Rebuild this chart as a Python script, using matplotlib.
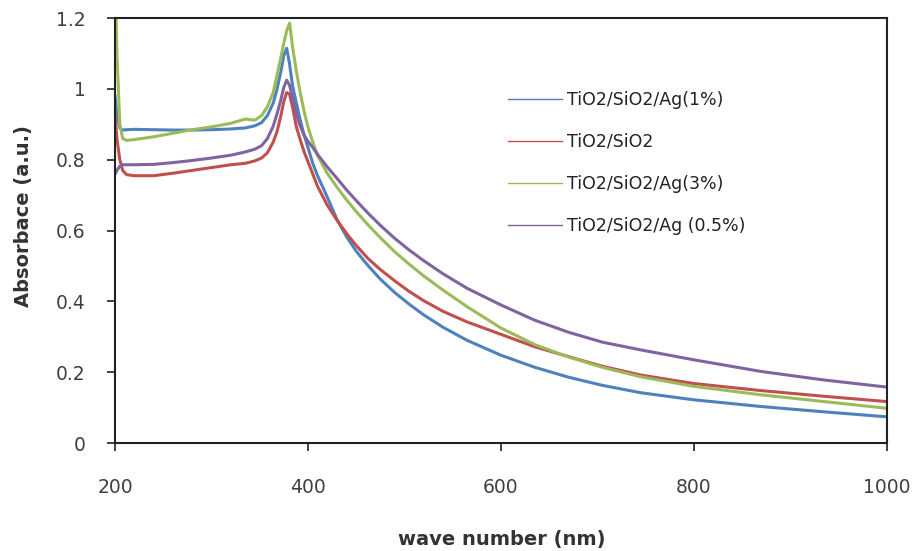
import matplotlib
matplotlib.use("Agg")
import matplotlib.pyplot as plt
from matplotlib.lines import Line2D

wavelength = [200, 202, 205, 208, 212, 220, 240, 260, 280, 300, 320, 335, 345, 352, 358, 364, 368, 372, 375,
              378, 381, 384, 388, 392, 396, 400, 405, 410, 420, 430, 440, 450, 462, 475, 490, 505, 520, 540,
              565, 600, 635, 670, 705, 745, 800, 870, 935, 1000]

ag1 = [0.98, 0.93, 0.89, 0.884, 0.885, 0.886, 0.885, 0.884, 0.884, 0.885, 0.887, 0.89, 0.896, 0.905, 0.925,
       0.96, 1.00, 1.05, 1.095, 1.115, 1.07, 1.01, 0.96, 0.912, 0.87, 0.835, 0.79, 0.755, 0.695, 0.632, 0.583,
       0.542, 0.502, 0.463, 0.425, 0.392, 0.362, 0.327, 0.29, 0.248, 0.214, 0.186, 0.163, 0.142, 0.122, 0.103,
       0.088, 0.074]

tio2_sio2 = [0.93, 0.86, 0.80, 0.77, 0.758, 0.755, 0.755, 0.762, 0.77, 0.778, 0.786, 0.79, 0.797, 0.805, 0.82,
             0.85, 0.88, 0.925, 0.965, 0.99, 0.985, 0.95, 0.893, 0.857, 0.823, 0.795, 0.76, 0.725, 0.672, 0.63,
             0.592, 0.558, 0.522, 0.49, 0.458, 0.428, 0.402, 0.372, 0.342, 0.307, 0.272, 0.244, 0.217, 0.192,
             0.168, 0.148, 0.132, 0.117]

ag3 = [1.35, 1.1, 0.9, 0.86, 0.855, 0.857, 0.865, 0.875, 0.885, 0.893, 0.903, 0.915, 0.912, 0.925, 0.95,
       0.99, 1.04, 1.09, 1.13, 1.165, 1.186, 1.12, 1.05, 0.99, 0.937, 0.893, 0.85, 0.812, 0.762, 0.723, 0.687,
       0.654, 0.617, 0.58, 0.54, 0.505, 0.472, 0.432, 0.385, 0.325, 0.278, 0.243, 0.214, 0.187, 0.16, 0.136,
       0.117, 0.098]

ag05 = [0.76, 0.77, 0.782, 0.786, 0.786, 0.786, 0.787, 0.792, 0.798, 0.805, 0.813, 0.822, 0.83, 0.84, 0.86,
        0.895, 0.93, 0.97, 1.005, 1.025, 1.01, 0.975, 0.93, 0.895, 0.87, 0.852, 0.835, 0.815, 0.78, 0.748,
        0.715, 0.685, 0.65, 0.615, 0.578, 0.545, 0.515, 0.478, 0.437, 0.39, 0.347, 0.313, 0.285, 0.263,
        0.235, 0.202, 0.178, 0.158]

labels = ["TiO2/SiO2/Ag(1%)", "TiO2/SiO2", "TiO2/SiO2/Ag(3%)", "TiO2/SiO2/Ag (0.5%)"]
colors = ["#4F81BD", "#C0504D", "#9BBB59", "#8064A2"]
series = [ag1, tio2_sio2, ag3, ag05]
x_ticks = [200, 400, 600, 800, 1000]
y_ticks = [0, 0.2, 0.4, 0.6, 0.8, 1.0, 1.2]
y_tick_labels = ["0", "0.2", "0.4", "0.6", "0.8", "1", "1.2"]

plt.rcParams['font.family'] = ['DejaVu Sans']

fig = plt.figure(figsize=(9.17, 5.51), dpi=100)
ax = fig.add_axes([0.1254, 0.196, 0.967 - 0.1254, 0.967 - 0.196])

for ys, c in zip(series, colors):
    ax.plot(wavelength, ys, color=c, lw=2.2, solid_joinstyle='round')

ax.set_xlim(200, 1000)
ax.set_ylim(0, 1.2)
ax.set_xticks(x_ticks)
ax.set_yticks(y_ticks)
ax.set_yticklabels(y_tick_labels)
tc = '#404040'
ax.tick_params(axis='x', direction='out', length=6, width=1.2, pad=19, labelsize=13.5, colors='#222222', labelcolor=tc)
ax.tick_params(axis='y', direction='out', length=6, width=1.2, pad=15, labelsize=13.5, colors='#222222', labelcolor=tc)
for s in ax.spines.values():
    s.set_linewidth(1.5)
    s.set_color('#222222')

ax.set_xlabel("wave number (nm)", fontsize=14, fontweight='bold', color='#333333')
ax.set_ylabel("Absorbace (a.u.)", fontsize=14, fontweight='bold', color='#333333')
ax.xaxis.set_label_coords(0.501, -0.228)
ax.yaxis.set_label_coords(-0.119, 0.534)
ax.xaxis.label.set_verticalalignment('center')
ax.yaxis.label.set_verticalalignment('center')

handles = [Line2D([0], [0], color=c, lw=1.0) for c in colors]
ax.legend(handles, labels, loc='upper left', bbox_to_anchor=(0.489, 0.866), frameon=False,
          fontsize=12.5, handlelength=3.1, handletextpad=0.3, labelspacing=1.38, labelcolor='#222222')

fig.savefig("out.png", dpi=100)
